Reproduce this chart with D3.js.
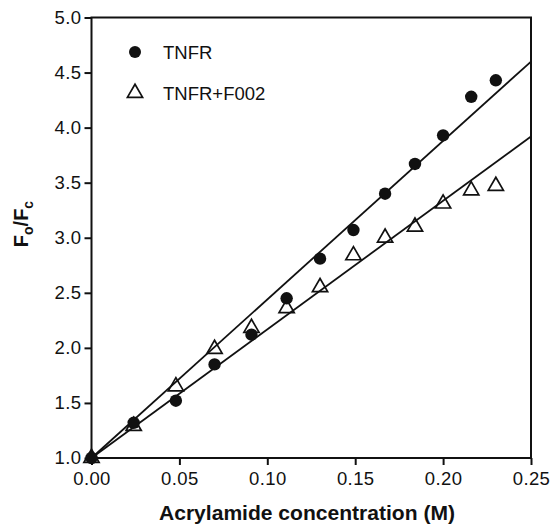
<!DOCTYPE html>
<html>
<head>
<meta charset="utf-8">
<script src="https://cdn.jsdelivr.net/npm/d3@7"></script>
<style>
  body { margin: 0; background: #fff; }
  text { font-family: "Liberation Sans", Arial, sans-serif; fill: #111; }
</style>
</head>
<body>
<svg id="chart" width="551" height="525"></svg>
<script>
"use strict";

// acrylamide concentration (M) for each measurement
const conc = [0, 0.024, 0.048, 0.070, 0.091, 0.111, 0.130, 0.149, 0.167, 0.184, 0.200, 0.216, 0.230];
// Fo/Fc, TNFR alone
const tnfr = [1.00, 1.32, 1.52, 1.85, 2.12, 2.45, 2.81, 3.07, 3.40, 3.67, 3.93, 4.28, 4.43];
// Fo/Fc, TNFR + F002
const tnfrF002 = [1.00, 1.29, 1.65, 1.99, 2.18, 2.36, 2.55, 2.84, 3.00, 3.10, 3.31, 3.43, 3.47];

// Stern-Volmer fit lines, end points
const fitX = [0, 0.25];
const fitTnfr = [1.0, 4.60];
const fitF002 = [1.0, 3.92];

const xTicks = [0, 0.05, 0.10, 0.15, 0.20, 0.25];
const yTicks = [1.0, 1.5, 2.0, 2.5, 3.0, 3.5, 4.0, 4.5, 5.0];

const svg = d3.select("#chart");
const margin = {top: 17.5, right: 20, bottom: 67, left: 91.5};
const width = 531 - margin.left;
const height = 458 - margin.top;

const x = d3.scaleLinear().domain([0, 0.25]).range([0, width]);
const y = d3.scaleLinear().domain([1, 5]).range([height, 0]);

const g = svg.append("g")
  .attr("transform", `translate(${margin.left},${margin.top})`);

// frame
g.append("rect")
  .attr("width", width).attr("height", height)
  .attr("fill", "none").attr("stroke", "#111").attr("stroke-width", 2);

// axes
const xAxis = g.append("g")
  .attr("transform", `translate(0,${height})`)
  .call(d3.axisBottom(x).tickValues(xTicks).tickFormat(d3.format(".2f")).tickSize(7).tickPadding(7));

const yAxis = g.append("g")
  .call(d3.axisLeft(y).tickValues(yTicks).tickFormat(d3.format(".1f")).tickSize(7).tickPadding(3));

[xAxis, yAxis].forEach(ax => {
  ax.select(".domain").remove();
  ax.selectAll(".tick line").attr("stroke", "#111").attr("stroke-width", 2);
  ax.selectAll(".tick text")
    .style("font-family", "'Liberation Sans', Arial, sans-serif")
    .style("font-size", "18.5px").style("letter-spacing", "0.4px").attr("fill", "#111");
});

// fit lines
const line = d3.line().x(d => x(d[0])).y(d => y(d[1]));
[fitTnfr, fitF002].forEach(f => {
  g.append("path")
    .datum(fitX.map((v, i) => [v, f[i]]))
    .attr("d", line)
    .attr("fill", "none").attr("stroke", "#111").attr("stroke-width", 1.8);
});

// triangles (open)
const tri = d3.symbol().type(d3.symbolTriangle).size(100);
g.selectAll(".tri")
  .data(conc.map((c, i) => [c, tnfrF002[i]]))
  .enter().append("path")
  .attr("class", "tri")
  .attr("d", tri)
  .attr("transform", d => `translate(${x(d[0])},${y(d[1])})`)
  .attr("fill", "none")
  .attr("stroke", "#111").attr("stroke-width", 1.7);

// circles (filled)
g.selectAll(".dot")
  .data(conc.map((c, i) => [c, tnfr[i]]))
  .enter().append("circle")
  .attr("class", "dot")
  .attr("cx", d => x(d[0]))
  .attr("cy", d => y(d[1]))
  .attr("r", 6.2)
  .attr("fill", "#111");

// legend
const legendData = [
  {label: "TNFR", kind: "circle"},
  {label: "TNFR+F002", kind: "triangle"}
];
const legend = svg.selectAll(".legend")
  .data(legendData)
  .enter().append("g")
  .attr("class", "legend")
  .attr("transform", (d, i) => `translate(135,${52 + i * 41})`);

legend.each(function(d) {
  const el = d3.select(this);
  if (d.kind === "circle") {
    el.append("circle").attr("r", 6).attr("fill", "#111");
  } else {
    el.append("path").attr("d", tri).attr("fill", "none")
      .attr("stroke", "#111").attr("stroke-width", 1.7);
  }
  el.append("text")
    .attr("x", 28).attr("y", 7)
    .style("font-size", "18.5px")
    .text(d.label);
});

// axis titles
svg.append("text")
  .attr("x", 307)
  .attr("y", 520)
  .attr("text-anchor", "middle")
  .attr("textLength", 296).attr("lengthAdjust", "spacingAndGlyphs")
  .style("font-size", "20.5px").style("font-weight", "bold")
  .text("Acrylamide concentration (M)");

const yt = svg.append("text")
  .attr("transform", "translate(28,224) rotate(-90)")
  .attr("text-anchor", "middle")
  .style("font-size", "20px").style("font-weight", "bold");
yt.append("tspan").text("F");
yt.append("tspan").attr("dy", 5).style("font-size", "14px").text("o");
yt.append("tspan").attr("dy", -5).text("/F");
yt.append("tspan").attr("dy", 5).style("font-size", "14px").text("c");
</script>
</body>
</html>
